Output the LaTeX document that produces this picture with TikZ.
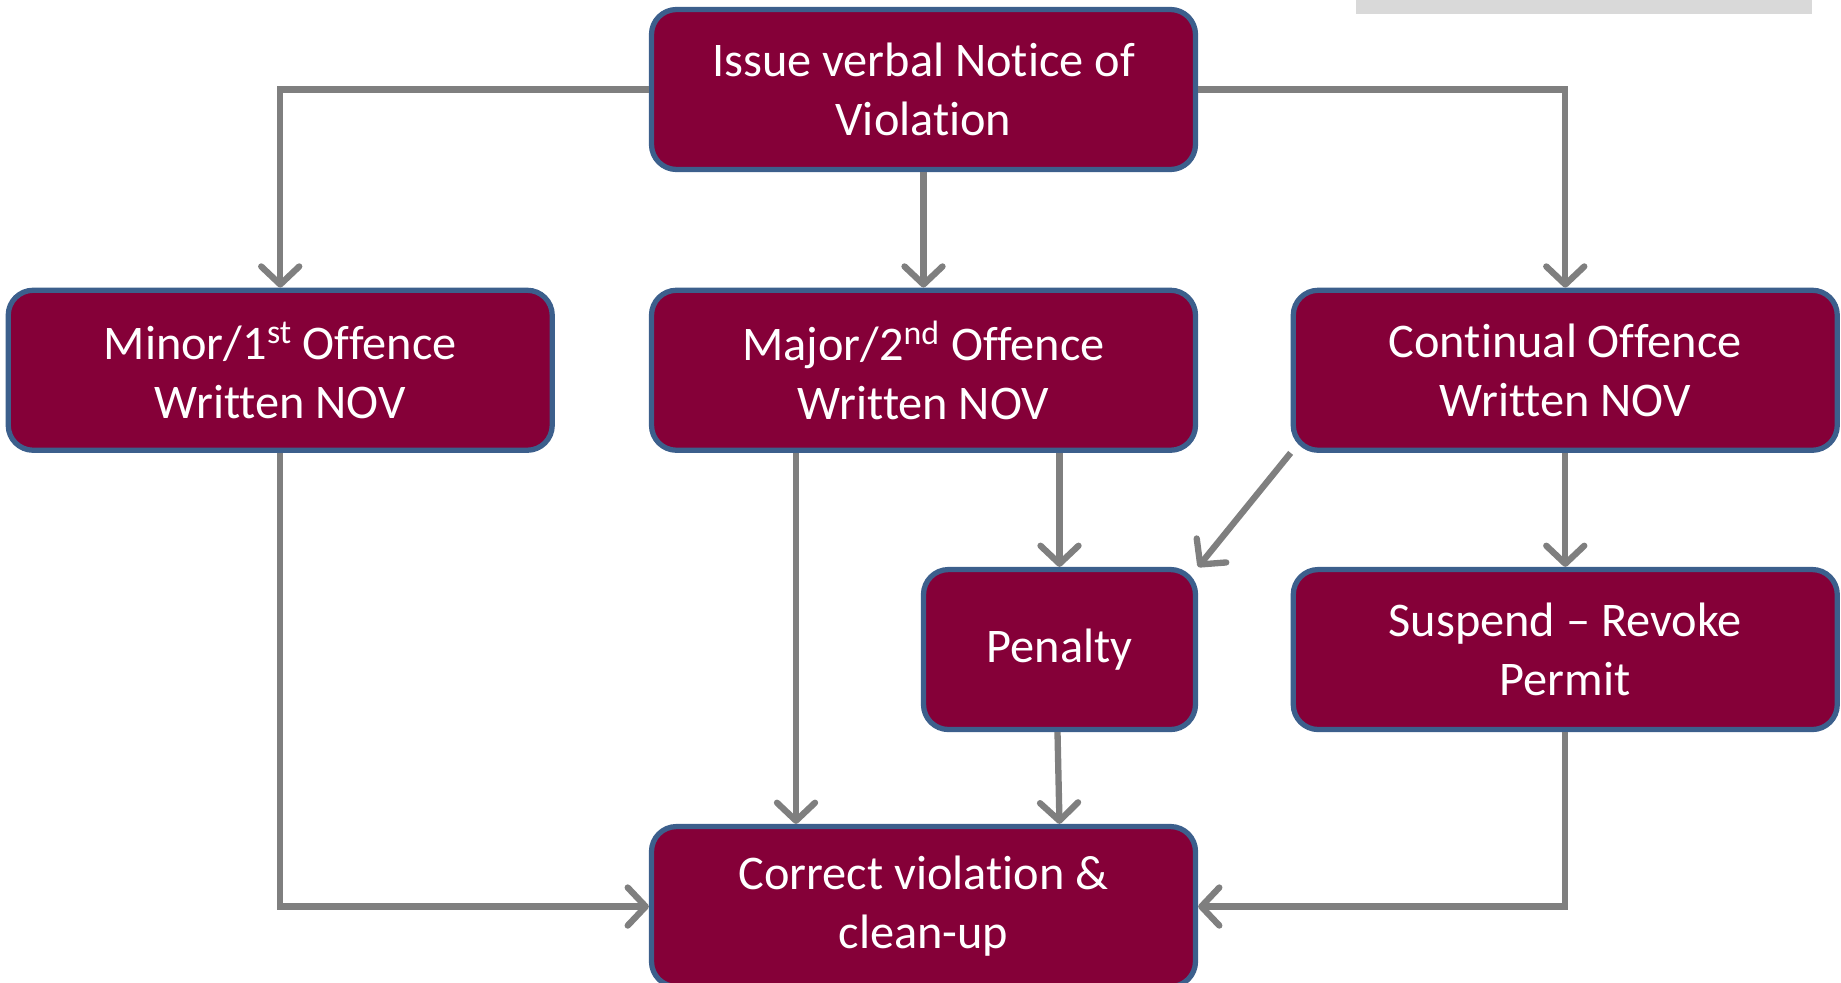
\documentclass[tikz,border=0pt]{standalone}
\usepackage{fontspec}
\setmainfont{Carlito}[Ligatures={NoCommon}]
\usetikzlibrary{positioning,arrows.meta}
\definecolor{wine}{HTML}{850038}
\definecolor{edgeblue}{HTML}{3C5F8C}
\definecolor{linegray}{HTML}{7F7F7F}
\tikzset{wine node/.style={rectangle, rounded corners=0.5cm, fill=wine, draw=edgeblue, line width=3pt, text=white, minimum width=10.88cm, minimum height=3.2cm, align=center, font=\fontsize{27.5}{33.5}\selectfont, inner sep=0pt}, }
\tikzset{small wine node/.style={wine node, minimum width=5.44cm}, }
\tikzset{gray arrow/.style={draw=linegray, line width=3.6pt, -{Straight Barb[length=3.6mm,width=7.6mm,round]}}, }

\begin{document}
\begin{tikzpicture}
	\useasboundingbox (0,0) rectangle (36.82,-19.66);
	\fill[gray!30] (27.12,0) rectangle (36.24,-0.28);
	\node[wine node] (issue) at (18.47,-1.79) {Issue verbal Notice of\\Violation};
	\node[wine node] (major) [below = 2.31cm of issue] {Major/2\textsuperscript{nd} Offence\\Written NOV};
	\node[wine node] (minor) [left = 1.88cm of major] {Minor/1\textsuperscript{st} Offence\\Written NOV};
	\node[wine node] (continual) [right = 1.85cm of major] {Continual Offence\\Written NOV};
	\node[small wine node] (penalty) [below = 2.28cm of major.south east, anchor=north east] {Penalty};
	\node[wine node] (suspend) [below = 2.28cm of continual] {Suspend -- Revoke\\Permit};
	\node[wine node] (correct) [below = 7.42cm of major] {Correct violation \&\\clean-up};
	\draw[gray arrow] (issue.west) -| (minor.north);
	\draw[gray arrow] (issue.south) -- (major.north);
	\draw[gray arrow] (issue.east) -| (continual.north);
	\draw[gray arrow] (minor.south) |- (correct.west);
	\draw[gray arrow] ([xshift=-2.55cm]major.south) -- ([xshift=-2.55cm]correct.north);
	\draw[gray arrow] (penalty.north |- major.south) -- (penalty.north);
	\draw[gray arrow] (continual.south west) -- (penalty.north east);
	\draw[gray arrow] (continual.south) -- (suspend.north);
	\draw[gray arrow] ([xshift=-0.04cm]penalty.south) -- (penalty.south |- correct.north);
	\draw[gray arrow] (suspend.south) |- (correct.east);
\end{tikzpicture}
\end{document}
